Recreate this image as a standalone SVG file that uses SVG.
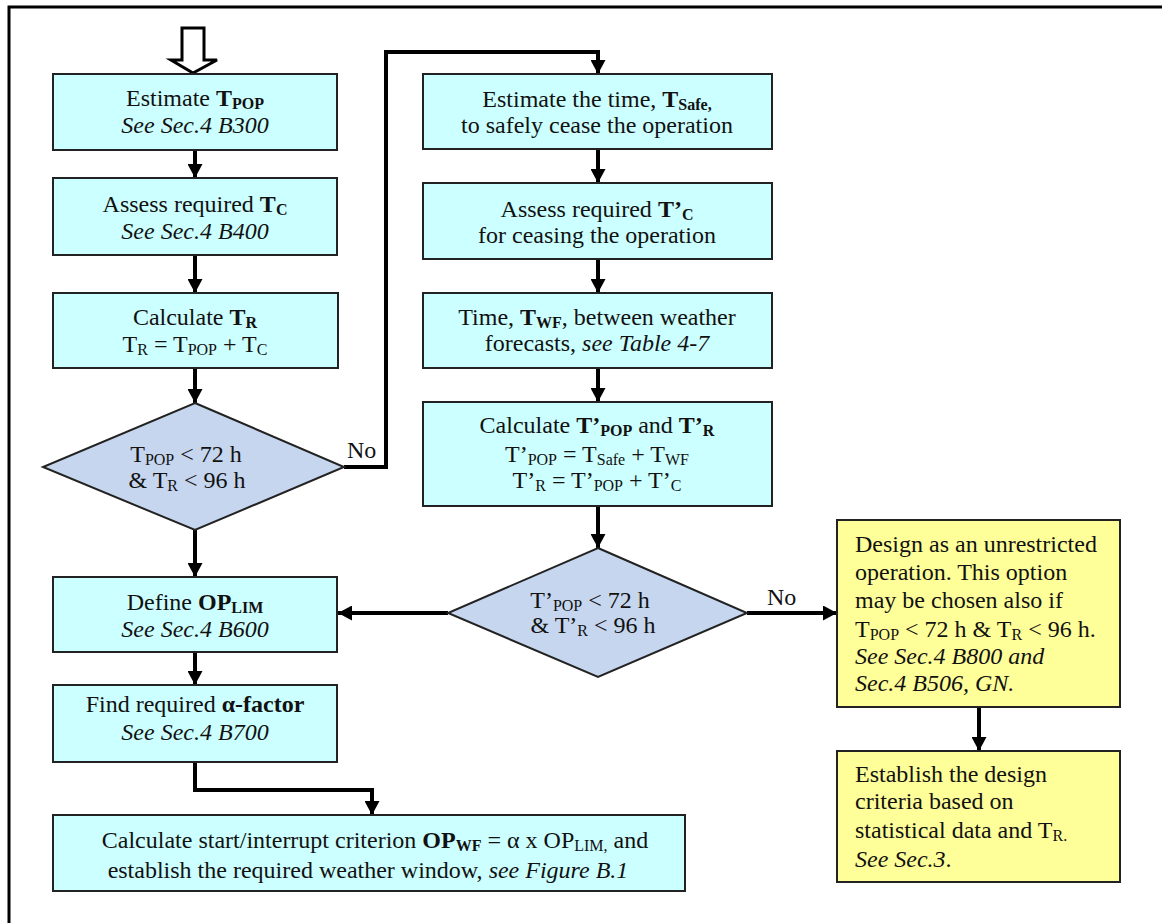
<svg xmlns="http://www.w3.org/2000/svg" width="1162" height="923" viewBox="0 0 1162 923">
<style>
.box{fill:#CCFFFF;stroke:#222;stroke-width:2}
.dia{fill:#C6D6EE;stroke:#222;stroke-width:2}
.yel{fill:#FFFF99;stroke:#222;stroke-width:2}
text{font-family:"Liberation Serif","Times New Roman",serif;font-size:24px;fill:#111}
.c{text-anchor:middle}
.b{font-weight:bold}
.i{font-style:italic}
.s{font-size:16px}
.con{fill:none;stroke:#000;stroke-width:4}
</style>
<defs>
<marker id="ah" markerUnits="userSpaceOnUse" viewBox="0 0 14 15" refX="14" refY="7.5" markerWidth="14" markerHeight="15" orient="auto">
<path d="M0,0 L14,7.5 L0,15 z" fill="#000"/>
</marker>
</defs>
<rect x="0" y="0" width="1162" height="923" fill="#fff"/>
<rect x="9" y="7" width="1180" height="960" fill="none" stroke="#000" stroke-width="3"/>

<g id="start">
<path d="M182,28 H204 V60 H217 L193,73 L171,60 H182 Z" fill="#fff" stroke="#000" stroke-width="3"/>
</g>

<g id="connectors">
<path class="con" d="M195,150 V178" marker-end="url(#ah)"/>
<path class="con" d="M195,255 V293" marker-end="url(#ah)"/>
<path class="con" d="M195,368 V403" marker-end="url(#ah)"/>
<path class="con" d="M195,530 V577" marker-end="url(#ah)"/>
<path class="con" d="M195,652 V685" marker-end="url(#ah)"/>
<path class="con" d="M195,762 V790 H372 V815" marker-end="url(#ah)"/>
<path class="con" d="M344,467 H386 V52 H598 V74" marker-end="url(#ah)"/>
<path class="con" d="M598,149 V183" marker-end="url(#ah)"/>
<path class="con" d="M598,259 V293" marker-end="url(#ah)"/>
<path class="con" d="M598,368 V402" marker-end="url(#ah)"/>
<path class="con" d="M598,506 V548" marker-end="url(#ah)"/>
<path class="con" d="M448,613 H338" marker-end="url(#ah)"/>
<path class="con" d="M747,613 H837" marker-end="url(#ah)"/>
<path class="con" d="M979,707 V751" marker-end="url(#ah)"/>
<text x="347" y="458">No</text>
<text x="767" y="605">No</text>
</g>

<g id="n1">
<rect class="box" x="53" y="74" width="284" height="76"/>
<text class="c" x="195" y="106">Estimate <tspan class="b">T</tspan><tspan class="b s" dy="3">POP</tspan></text>
<text class="c i" x="195" y="133">See Sec.4 B300</text>
</g>

<g id="n2">
<rect class="box" x="53" y="178" width="284" height="77"/>
<text class="c" x="195" y="212">Assess required <tspan class="b">T</tspan><tspan class="b s" dy="3">C</tspan></text>
<text class="c i" x="195" y="239">See Sec.4 B400</text>
</g>

<g id="n3">
<rect class="box" x="53" y="293" width="285" height="75"/>
<text class="c" x="195" y="325">Calculate <tspan class="b">T</tspan><tspan class="b s" dy="3">R</tspan></text>
<text class="c" x="195" y="352">T<tspan class="s" dy="3">R</tspan><tspan dy="-3"> = T</tspan><tspan class="s" dy="3">POP</tspan><tspan dy="-3"> + T</tspan><tspan class="s" dy="3">C</tspan></text>
</g>

<g id="d1">
<path class="dia" d="M195,403 L344,467 L195,530 L43,467 Z"/>
<text class="c" x="186" y="462">T<tspan class="s" dy="3">POP</tspan><tspan dy="-3"> &lt; 72 h</tspan></text>
<text class="c" x="187" y="488">&amp; T<tspan class="s" dy="3">R</tspan><tspan dy="-3"> &lt; 96 h</tspan></text>
</g>

<g id="n4">
<rect class="box" x="53" y="577" width="284" height="75"/>
<text class="c" x="195" y="610">Define <tspan class="b">OP</tspan><tspan class="b s" dy="3">LIM</tspan></text>
<text class="c i" x="195" y="637">See Sec.4 B600</text>
</g>

<g id="n5">
<rect class="box" x="53" y="685" width="284" height="77"/>
<text class="c" x="195" y="712">Find required <tspan class="b">α-factor</tspan></text>
<text class="c i" x="195" y="740">See Sec.4 B700</text>
</g>

<g id="n6">
<rect class="box" x="53" y="815" width="632" height="76"/>
<text class="c" x="375" y="848">Calculate start/interrupt criterion <tspan class="b">OP</tspan><tspan class="b s" dy="3">WF</tspan><tspan dy="-3"> = α x OP</tspan><tspan class="s" dy="3">LIM,</tspan><tspan dy="-3"> and</tspan></text>
<text class="c" x="368" y="878">establish the required weather window, <tspan class="i">see Figure B.1</tspan></text>
</g>

<g id="r1">
<rect class="box" x="423" y="74" width="349" height="75"/>
<text class="c" x="597" y="107">Estimate the time, <tspan class="b">T</tspan><tspan class="b s" dy="3">Safe,</tspan></text>
<text class="c" x="597" y="133">to safely cease the operation</text>
</g>

<g id="r2">
<rect class="box" x="423" y="183" width="349" height="76"/>
<text class="c" x="597" y="217">Assess required <tspan class="b">T’</tspan><tspan class="b s" dy="3">C</tspan></text>
<text class="c" x="597" y="243">for ceasing the operation</text>
</g>

<g id="r3">
<rect class="box" x="423" y="293" width="349" height="75"/>
<text class="c" x="597" y="325">Time, <tspan class="b">T</tspan><tspan class="b s" dy="3">WF</tspan><tspan dy="-3">, between weather</tspan></text>
<text class="c" x="597" y="351">forecasts, <tspan class="i">see Table 4-7</tspan></text>
</g>

<g id="r4">
<rect class="box" x="423" y="402" width="349" height="104"/>
<text class="c" x="597" y="433">Calculate <tspan class="b">T’</tspan><tspan class="b s" dy="3">POP</tspan><tspan dy="-3"> and </tspan><tspan class="b">T’</tspan><tspan class="b s" dy="3">R</tspan></text>
<text class="c" x="597" y="462">T’<tspan class="s" dy="3">POP</tspan><tspan dy="-3"> = T</tspan><tspan class="s" dy="3">Safe</tspan><tspan dy="-3"> + T</tspan><tspan class="s" dy="3">WF</tspan></text>
<text class="c" x="597" y="488">T’<tspan class="s" dy="3">R</tspan><tspan dy="-3"> = T’</tspan><tspan class="s" dy="3">POP</tspan><tspan dy="-3"> + T’</tspan><tspan class="s" dy="3">C</tspan></text>
</g>

<g id="d2">
<path class="dia" d="M598,548 L747,613 L598,677 L448,613 Z"/>
<text class="c" x="590" y="608">T’<tspan class="s" dy="3">POP</tspan><tspan dy="-3"> &lt; 72 h</tspan></text>
<text class="c" x="593" y="633">&amp; T’<tspan class="s" dy="3">R</tspan><tspan dy="-3"> &lt; 96 h</tspan></text>
</g>

<g id="y1">
<rect class="yel" x="837" y="520" width="283" height="187"/>
<text x="855" y="552">Design as an unrestricted</text>
<text x="855" y="580">operation. This option</text>
<text x="855" y="608">may be chosen also if</text>
<text x="855" y="637">T<tspan class="s" dy="3">POP</tspan><tspan dy="-3"> &lt; 72 h &amp; T</tspan><tspan class="s" dy="3">R</tspan><tspan dy="-3"> &lt; 96 h.</tspan></text>
<text class="i" x="855" y="664">See Sec.4 B800 and</text>
<text class="i" x="855" y="691">Sec.4 B506, GN.</text>
</g>

<g id="y2">
<rect class="yel" x="837" y="751" width="283" height="131"/>
<text x="855" y="782">Establish the design</text>
<text x="855" y="809">criteria based on</text>
<text x="855" y="838">statistical data and T<tspan class="s" dy="3">R.</tspan></text>
<text x="855" y="867"><tspan class="i">See Sec.3</tspan>.</text>
</g>
</svg>
